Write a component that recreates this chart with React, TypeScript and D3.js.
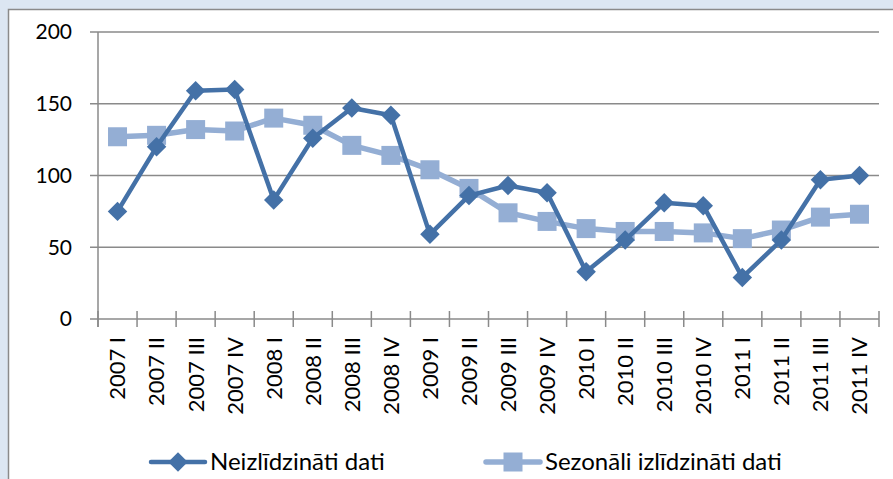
import React, { useEffect, useRef } from "react";
import * as d3 from "d3";

const quarters = [
  "2007 I", "2007 II", "2007 III", "2007 IV",
  "2008 I", "2008 II", "2008 III", "2008 IV",
  "2009 I", "2009 II", "2009 III", "2009 IV",
  "2010 I", "2010 II", "2010 III", "2010 IV",
  "2011 I", "2011 II", "2011 III", "2011 IV",
];
const rawData = [75, 120, 159, 160, 83, 126, 147, 142, 59, 86, 93, 88, 33, 55, 81, 79, 29, 55, 97, 100];
const adjustedData = [127, 128, 132, 131, 140, 135, 121, 114, 104, 91, 74, 68, 63, 61, 61, 60, 56, 62, 71, 73];
const yTicks = [0, 50, 100, 150, 200];
const seriesNames = ["Neizlīdzināti dati", "Sezonāli izlīdzināti dati"];

const W = 893;
const H = 479;
const dark = "#4471a7";
const light = "#94aed4";
const grid = "#8a8a8a";
const font = "Lato, 'Open Sans', sans-serif";

export default function App() {
  const svgRef = useRef<SVGSVGElement>(null);

  useEffect(() => {
    const svg = d3.select(svgRef.current);
    svg.selectAll("*").remove();

    // outer background and chart frame
    svg.append("rect").attr("width", W).attr("height", H).attr("fill", "#dce6f2");
    svg
      .append("rect")
      .attr("x", 8.5)
      .attr("y", 9.5)
      .attr("width", W)
      .attr("height", H)
      .attr("fill", "#fff")
      .attr("stroke", "#8a8a8a")
      .attr("stroke-width", 1.5);

    const left = 98;
    const right = 879;
    const top = 32;
    const bottom = 319;

    const x = d3.scaleBand().domain(quarters).range([left, right]);
    const y = d3.scaleLinear().domain([0, 200]).range([bottom, top]);
    const cx = (i: number) => (x(quarters[i]) as number) + x.bandwidth() / 2;

    // gridlines
    svg
      .append("g")
      .selectAll("line")
      .data(yTicks)
      .join("line")
      .attr("x1", left - 8)
      .attr("x2", right)
      .attr("y1", (d) => y(d))
      .attr("y2", (d) => y(d))
      .attr("stroke", grid)
      .attr("stroke-width", 1.5);

    // y axis line
    svg
      .append("line")
      .attr("x1", left)
      .attr("x2", left)
      .attr("y1", top)
      .attr("y2", bottom + 8)
      .attr("stroke", grid)
      .attr("stroke-width", 1.5);

    // y tick labels
    svg
      .append("g")
      .selectAll("text")
      .data(yTicks)
      .join("text")
      .attr("x", 72)
      .attr("y", (d) => y(d))
      .attr("dy", "0.35em")
      .attr("text-anchor", "end")
      .attr("font-family", font)
      .attr("font-size", 21)
      .attr("fill", "#000")
      .text((d) => d);

    // x ticks
    const edges = quarters.map((q) => x(q) as number).concat([right]);
    svg
      .append("g")
      .selectAll("line")
      .data(edges)
      .join("line")
      .attr("x1", (d) => d)
      .attr("x2", (d) => d)
      .attr("y1", bottom - 8)
      .attr("y2", bottom + 8)
      .attr("stroke", grid)
      .attr("stroke-width", 1.5);

    // x labels, rotated
    svg
      .append("g")
      .selectAll("text")
      .data(quarters)
      .join("text")
      .attr("transform", (d, i) => `translate(${cx(i)},${bottom + 18}) rotate(-90)`)
      .attr("dy", "0.36em")
      .attr("text-anchor", "end")
      .attr("font-family", font)
      .attr("font-size", 22)
      .attr("fill", "#000")
      .text((d) => d);

    const line = d3
      .line<number>()
      .x((d, i) => cx(i))
      .y((d) => y(d));

    // adjusted series (light, squares)
    svg
      .append("path")
      .datum(adjustedData)
      .attr("d", line)
      .attr("fill", "none")
      .attr("stroke", light)
      .attr("stroke-width", 5.5)
      .attr("stroke-linejoin", "round");
    const sq = 19;
    svg
      .append("g")
      .selectAll("rect")
      .data(adjustedData)
      .join("rect")
      .attr("x", (d, i) => cx(i) - sq / 2)
      .attr("y", (d) => y(d) - sq / 2)
      .attr("width", sq)
      .attr("height", sq)
      .attr("fill", light);

    // raw series (dark, diamonds)
    svg
      .append("path")
      .datum(rawData)
      .attr("d", line)
      .attr("fill", "none")
      .attr("stroke", dark)
      .attr("stroke-width", 4.5)
      .attr("stroke-linejoin", "round");
    const diamond = d3.symbol().type(d3.symbolSquare).size(190);
    svg
      .append("g")
      .selectAll("path")
      .data(rawData)
      .join("path")
      .attr("d", diamond)
      .attr("transform", (d, i) => `translate(${cx(i)},${y(d)}) rotate(45)`)
      .attr("fill", dark);

    // legend
    const legendY = 462;
    const leg = svg.append("g");
    const items = [
      { x: 151, color: dark, width: 4.5, name: seriesNames[0], shape: "diamond" },
      { x: 486, color: light, width: 5.5, name: seriesNames[1], shape: "square" },
    ];
    items.forEach((it) => {
      leg
        .append("line")
        .attr("x1", it.x)
        .attr("x2", it.x + 54)
        .attr("y1", legendY)
        .attr("y2", legendY)
        .attr("stroke", it.color)
        .attr("stroke-width", it.width)
        .attr("stroke-linecap", "round");
      if (it.shape === "diamond") {
        leg
          .append("path")
          .attr("d", diamond)
          .attr("transform", `translate(${it.x + 27},${legendY}) rotate(45)`)
          .attr("fill", it.color);
      } else {
        leg
          .append("rect")
          .attr("x", it.x + 27 - sq / 2)
          .attr("y", legendY - sq / 2)
          .attr("width", sq)
          .attr("height", sq)
          .attr("fill", it.color);
      }
      leg
        .append("text")
        .attr("x", it.x + 59)
        .attr("y", legendY)
        .attr("dy", "0.35em")
        .attr("font-family", font)
        .attr("font-size", 24)
        .attr("fill", "#000")
        .text(it.name);
    });
  }, []);

  return (
    <div style={{ position: "fixed", left: 0, top: 0 }}>
      <svg ref={svgRef} width={W} height={H} style={{ display: "block" }} />
    </div>
  );
}
